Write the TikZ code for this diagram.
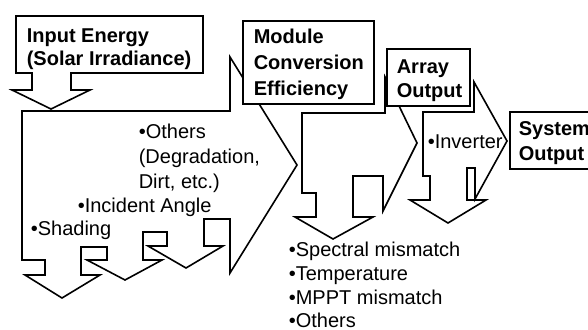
\documentclass[tikz,border=0pt]{standalone}
\usepackage{fontspec}
\setmainfont{Liberation Sans}
\begin{document}
\begin{tikzpicture}[x=1pt,y=-1pt, line width=1.6pt,
  callout/.style={draw=black, fill=white, line join=miter},
  boldtxt/.style={font=\fontsize{20}{24}\selectfont\bfseries, anchor=base west, inner sep=0pt},
  plaintxt/.style={font=\fontsize{20}{24}\selectfont, anchor=base west, inner sep=0pt}]
\clip (0,0) rectangle (588,329);
\fill[white] (0,0) rectangle (588,329);
% stage 1 losses shape
\draw[callout] (22,111) -- (230,111) -- (230,57) -- (297,165) -- (230,273) -- (230,219) -- (204,219) -- (204,246) -- (223,246) -- (186,268) -- (148,246) -- (167,246) -- (167,232) -- (143,232) -- (143,260) -- (162,260) -- (125,280) -- (87,260) -- (107,260) -- (107,247) -- (81,247) -- (81,275) -- (100,275) -- (62,298) -- (25,275) -- (45,275) -- (45,260) -- (22,260) -- cycle;
% input energy callout
\draw[callout] (16,16) -- (203,16) -- (203,73) -- (71,73) -- (71,90) -- (90,90) -- (51,109) -- (12,90) -- (32,90) -- (32,73) -- (16,73) -- cycle;
% module box
\draw[callout] (243,21) rectangle (374,104);
% stage 2 shape
\draw[callout] (302,113) -- (385,113) -- (385,77) -- (417,143) -- (383,211) -- (383,176) -- (353,176) -- (353,217) -- (373,217) -- (333,239) -- (295,217) -- (316,217) -- (316,193) -- (302,193) -- cycle;
% array box
\draw[callout] (387,49) rectangle (470,106);
% stage 3 shape
\draw[callout] (423,112) -- (474,112) -- (474,82) -- (507,141) -- (475,199) -- (475,168) -- (467,168) -- (467,200) -- (486,200) -- (448,223) -- (410,200) -- (430,200) -- (430,176) -- (423,176) -- cycle;
% system box
\draw[callout] (510,112) rectangle (610,169);
% texts
\node[boldtxt] (in1) at (26,42) {Input Energy};
\node[boldtxt] (in2) at (26,66) {(Solar Irradiance)};
\node[boldtxt] (mo1) at (253,44) {Module};
\node[boldtxt] (mo2) at (253,70) {Conversion};
\node[boldtxt] (mo3) at (253,95) {Efficiency};
\node[boldtxt] (ar1) at (396,73) {Array};
\node[boldtxt] (ar2) at (396,97) {Output};
\node[boldtxt] (sy1) at (518,135) {System};
\node[boldtxt] (sy2) at (518,160) {Output};
\node[plaintxt] (ot1) at (138,138) {•Others};
\node[plaintxt] (ot2) at (138,163) {(Degradation,};
\node[plaintxt] (ot3) at (138,188) {Dirt, etc.)};
\node[plaintxt] (inc) at (77,212) {•Incident Angle};
\node[plaintxt] (sha) at (30,235) {•Shading};
\node[plaintxt] (inv) at (427,148) {•Inverter};
\node[plaintxt] (sp1) at (288,256) {•Spectral mismatch};
\node[plaintxt] (sp2) at (288,280) {•Temperature};
\node[plaintxt] (sp3) at (288,304) {•MPPT mismatch};
\node[plaintxt] (sp4) at (288,327) {•Others};
\end{tikzpicture}
\end{document}
